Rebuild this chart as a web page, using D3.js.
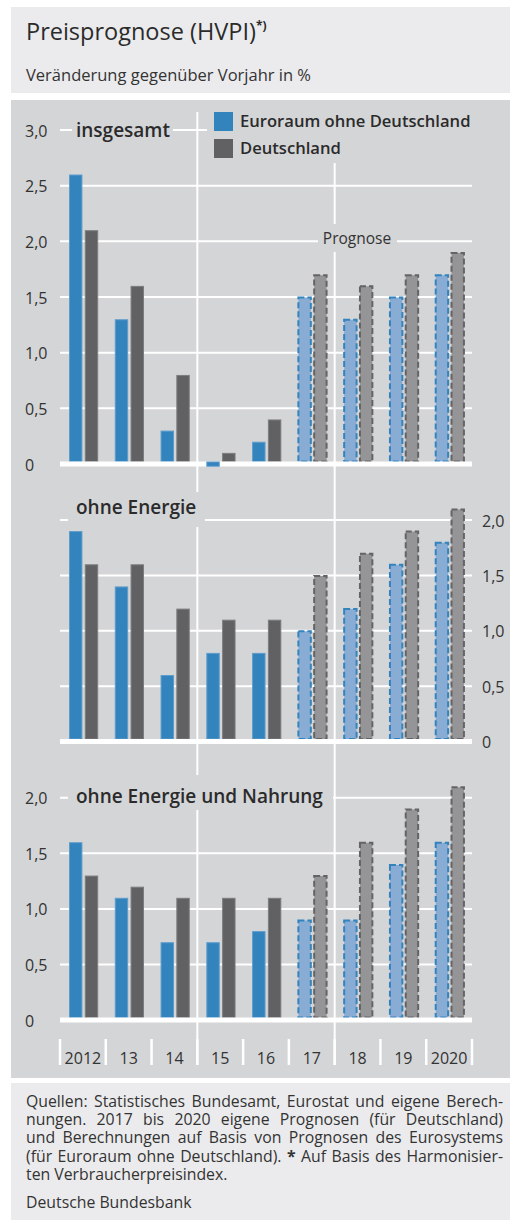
<!DOCTYPE html>
<html>
<head>
<meta charset="utf-8">
<script src="https://cdnjs.cloudflare.com/ajax/libs/d3/7.8.5/d3.min.js"></script>
<style>
  body { margin: 0; background: #fff; }
  svg { display: block; font-family: "Open Sans", "Noto Sans", sans-serif; }
</style>
</head>
<body>
<div id="chart"></div>
<script>
// Daten
const jahre = ["2012", "2013", "2014", "2015", "2016", "2017", "2018", "2019", "2020"];
const jahrLabels = ["2012", "13", "14", "15", "16", "17", "18", "19", "2020"];
const prognoseJahre = ["2017", "2018", "2019", "2020"];
const serien = ["Euroraum ohne Deutschland", "Deutschland"];

const insgesamtEA = [2.6, 1.3, 0.3, -0.02, 0.2, 1.5, 1.3, 1.5, 1.7];
const insgesamtDE = [2.1, 1.6, 0.8, 0.1, 0.4, 1.7, 1.6, 1.7, 1.9];
const ohneEnergieEA = [1.9, 1.4, 0.6, 0.8, 0.8, 1.0, 1.2, 1.6, 1.8];
const ohneEnergieDE = [1.6, 1.6, 1.2, 1.1, 1.1, 1.5, 1.7, 1.9, 2.1];
const ohneNahrungEA = [1.6, 1.1, 0.7, 0.7, 0.8, 0.9, 0.9, 1.4, 1.6];
const ohneNahrungDE = [1.3, 1.2, 1.1, 1.1, 1.1, 1.3, 1.6, 1.9, 2.1];

const ticksInsgesamt = [0, 0.5, 1.0, 1.5, 2.0, 2.5, 3.0];
const ticksAndere = [0, 0.5, 1.0, 1.5, 2.0];

const quellenZeilen = [
  "Quellen: Statistisches Bundesamt, Eurostat und eigene Berech-",
  "nungen. 2017 bis 2020 eigene Prognosen (für Deutschland)",
  "und Berechnungen auf Basis von Prognosen des Eurosystems",
  "(für Euroraum ohne Deutschland). * Auf Basis des Harmonisier-",
  "ten Verbraucherpreisindex."
];

// Farben
const blau = "#3383bd", blauHell = "#89acd5";
const grau = "#616163", grauHell = "#959597";
const hintergrund = "#d4d5d7", kopf = "#ebebed";
const textFarbe = "#2b2b2b";

const width = 510, height = 1226;
const left = 60, right = 472;

const svg = d3.select("#chart").append("svg")
  .attr("width", width)
  .attr("height", height);

// Kästen
svg.append("rect").attr("x", 11).attr("y", 7).attr("width", 499).attr("height", 86).attr("fill", kopf);
svg.append("rect").attr("x", 11).attr("y", 100).attr("width", 499).attr("height", 978).attr("fill", hintergrund);
svg.append("rect").attr("x", 11).attr("y", 1083).attr("width", 499).attr("height", 137).attr("fill", kopf);

// Titel
const titel = svg.append("text")
  .attr("x", 26).attr("y", 40)
  .style("font-size", "23.5px")
  .style("fill", textFarbe)
  .text("Preisprognose (HVPI)");
titel.append("tspan")
  .attr("dy", -10)
  .style("font-size", "12px")
  .style("font-weight", "700")
  .text("*)");

svg.append("text")
  .attr("x", 26).attr("y", 81)
  .style("font-size", "16.5px")
  .style("fill", "#333")
  .text("Veränderung gegenüber Vorjahr in %");

// Skalen
const x0 = d3.scaleBand().domain(jahre).range([left, right]).padding(0);
const x1 = d3.scaleBand().domain(serien).range([9, 38.2]).paddingInner(0.15);

const panels = [
  { name: "insgesamt", ea: insgesamtEA, de: insgesamtDE, ticks: ticksInsgesamt,
    y: d3.scaleLinear().domain([0, 3]).range([464, 130]), achse: "links",
    label: { y: 137, bg: [72, 173, 112, 148] } },
  { name: "ohne Energie", ea: ohneEnergieEA, de: ohneEnergieDE, ticks: ticksAndere,
    y: d3.scaleLinear().domain([0, 2]).range([741.5, 520]), achse: "rechts",
    label: { y: 514, bg: [68, 205, 492, 527] } },
  { name: "ohne Energie und Nahrung", ea: ohneNahrungEA, de: ohneNahrungDE, ticks: ticksAndere,
    y: d3.scaleLinear().domain([0, 2]).range([1020, 797.8]), achse: "links",
    label: { y: 803, bg: [68, 333, 775, 810] } }
];

const gitter = svg.append("g");
const oben = svg.append("g");

// horizontale Gitterlinien
panels.forEach(p => {
  gitter.selectAll(null)
    .data(p.ticks.filter(t => t > 0))
    .enter()
    .append("line")
    .attr("x1", left).attr("x2", right)
    .attr("y1", d => p.y(d)).attr("y2", d => p.y(d))
    .style("stroke", "#fff")
    .style("stroke-width", 2);
});

// vertikale Trennlinien (zwischen 14/15 und 17/18)
gitter.selectAll(null)
  .data(["2015", "2018"])
  .enter()
  .append("line")
  .attr("x1", d => x0(d)).attr("x2", d => x0(d))
  .attr("y1", 112).attr("y2", 1065)
  .style("stroke", "#fff")
  .style("stroke-width", 2);

// Legende (mit Hintergrund)
oben.append("rect").attr("x", 207).attr("y", 100).attr("width", 280).attr("height", 63).attr("fill", hintergrund);
const legende = oben.selectAll(".legende")
  .data(serien)
  .enter()
  .append("g")
  .attr("transform", (d, i) => `translate(214,${112 + i * 27})`);
legende.append("rect")
  .attr("width", 19).attr("height", 19)
  .attr("fill", (d, i) => i === 0 ? blau : grau);
legende.append("text")
  .attr("x", 26).attr("y", 15)
  .style("font-size", "16.6px")
  .style("font-weight", "600")
  .style("fill", textFarbe)
  .text(d => d);

// Prognose-Beschriftung
oben.append("rect").attr("x", 318).attr("y", 224).attr("width", 79).attr("height", 28).attr("fill", hintergrund);
oben.append("text")
  .attr("x", 357).attr("y", 244)
  .attr("text-anchor", "middle")
  .style("font-size", "15.5px")
  .style("fill", "#333")
  .text("Prognose");

panels.forEach(p => {
  const g = oben.append("g");
  const b = p.label.bg;
  g.append("rect")
    .attr("x", b[0]).attr("y", b[2])
    .attr("width", b[1] - b[0]).attr("height", b[3] - b[2])
    .attr("fill", hintergrund);
  g.append("text")
    .attr("x", 76).attr("y", p.label.y)
    .style("font-size", "19px")
    .style("font-weight", "600")
    .style("fill", textFarbe)
    .text(p.name);

  // Achsenbeschriftung
  g.selectAll(".tick")
    .data(p.ticks)
    .enter()
    .append("text")
    .attr("x", p.achse === "links" ? 25 : 482)
    .attr("y", d => p.y(d) + 6.5)
    .style("font-size", "16px")
    .style("fill", "#333")
    .text(d => d === 0 ? "0" : d3.format(".1f")(d).replace(".", ","));

  // Balken
  const daten = [];
  jahre.forEach((j, i) => {
    daten.push({ jahr: j, serie: serien[0], wert: p.ea[i] });
    daten.push({ jahr: j, serie: serien[1], wert: p.de[i] });
  });
  const y0 = p.y(0);

  const balken = g.selectAll(".bar")
    .data(daten)
    .enter()
    .append("rect")
    .attr("x", d => x0(d.jahr) + x1(d.serie) + 0.5)
    .attr("width", x1.bandwidth() - 1)
    .attr("y", d => d.wert >= 0 ? p.y(d.wert) + 0.5 : y0 - 2)
    .attr("height", d => d.wert >= 0 ? Math.max(0, y0 - 2.5 - p.y(d.wert) - 0.5) : p.y(d.wert) - y0 + 2)
    .style("fill", d => {
      const prog = prognoseJahre.includes(d.jahr);
      if (d.serie === serien[0]) return prog ? blauHell : blau;
      return prog ? grauHell : grau;
    })
    .style("stroke", d => {
      const prog = prognoseJahre.includes(d.jahr);
      if (d.serie === serien[0]) return prog ? blau : "#5d9ccc";
      return prog ? "#646466" : "#7d7d7f";
    })
    .style("stroke-width", d => prognoseJahre.includes(d.jahr) ? 2 : 1)
    .style("stroke-dasharray", d => prognoseJahre.includes(d.jahr) ? "6,3" : null);

  // Nulllinie
  g.append("rect")
    .attr("x", left).attr("y", y0 - 2.5)
    .attr("width", right - left).attr("height", 5)
    .attr("fill", "#fff");

  // negative Balken über der Nulllinie
  balken.filter(d => d.wert < 0).raise();
});

// x-Achse
const xAchse = svg.append("g");
xAchse.selectAll(".xtick")
  .data(jahre.concat(["ende"]))
  .enter()
  .append("line")
  .attr("x1", d => d === "ende" ? right : x0(d))
  .attr("x2", d => d === "ende" ? right : x0(d))
  .attr("y1", 1039).attr("y2", 1065)
  .style("stroke", "#fff")
  .style("stroke-width", 2.5);

xAchse.selectAll(".xlabel")
  .data(jahre)
  .enter()
  .append("text")
  .attr("x", d => x0(d) + x0.bandwidth() / 2)
  .attr("y", 1064)
  .attr("text-anchor", "middle")
  .style("font-size", "16px")
  .style("fill", "#333")
  .text((d, i) => jahrLabels[i]);

// Quellen, Blocksatz
const fussX0 = 26, fussX1 = 503;
quellenZeilen.forEach((zeile, i) => {
  const t = svg.append("text")
    .attr("x", fussX0)
    .attr("y", 1107 + i * 18.2)
    .style("font-size", "15.8px")
    .style("fill", "#333");
  if (zeile.includes("* ")) {
    const teile = zeile.split("* ");
    t.append("tspan").text(teile[0]);
    t.append("tspan").style("font-weight", "700").text("*");
    t.append("tspan").text(" " + teile[1]);
  } else {
    t.text(zeile);
  }
  if (i < quellenZeilen.length - 1) {
    const laenge = t.node().getComputedTextLength();
    const luecken = zeile.split(" ").length - 1;
    t.style("word-spacing", ((fussX1 - fussX0 - laenge) / luecken) + "px");
  }
});

svg.append("text")
  .attr("x", fussX0).attr("y", 1208)
  .style("font-size", "15.8px")
  .style("fill", "#333")
  .text("Deutsche Bundesbank");
</script>
</body>
</html>
